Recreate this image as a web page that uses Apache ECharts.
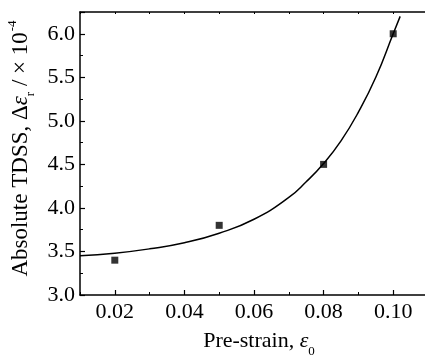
<!DOCTYPE html>
<html>
<head>
<meta charset="utf-8">
<script src="https://cdn.jsdelivr.net/npm/echarts@6/dist/echarts.min.js"></script>
<style>html,body{margin:0;padding:0;background:#fff}#c{width:425px;height:358px}</style>
</head>
<body>
<div id="c"></div>
<script>
// measured points
const preStrain = [0.02, 0.05, 0.08, 0.10];
const tdss = [3.40, 3.80, 4.50, 6.00];
// fitted curve
const fitX = [0.010, 0.020, 0.030, 0.040, 0.050, 0.060, 0.070, 0.075, 0.080, 0.085, 0.090, 0.095, 0.100, 0.102];
const fitY = [3.45, 3.48, 3.53, 3.60, 3.71, 3.87, 4.12, 4.30, 4.51, 4.77, 5.10, 5.50, 6.00, 6.20];
const xLabelValues = [0.02, 0.04, 0.06, 0.08, 0.10];

const FONT = '"Liberation Serif", "Times New Roman", serif';
const FS = 22;
const chart = echarts.init(document.getElementById('c'), null, {renderer: 'canvas'});
const axisLine = {show: true, lineStyle: {color: '#000', width: 1.5}};
chart.setOption({
  animation: false,
  backgroundColor: '#fff',
  grid: {left: 80, right: -3, top: 12, bottom: 63, containLabel: false, outerBoundsMode: 'none'},
  xAxis: [
    {
      type: 'value', position: 'bottom', min: 0.01, max: 0.11, interval: 0.01,
      axisLine: axisLine,
      axisTick: {show: true, inside: true, length: 3, lineStyle: {color: '#000', width: 1}},
      axisLabel: {show: false},
      splitLine: {show: false}
    },
    {
      type: 'value', position: 'bottom', min: 0.01, max: 0.11,
      axisLine: {show: false},
      axisTick: {show: true, inside: true, length: 5, customValues: xLabelValues, lineStyle: {color: '#000', width: 1.2}},
      axisLabel: {show: true, customValues: xLabelValues, margin: 6, color: '#000', fontFamily: FONT, fontSize: FS,
        formatter: v => v.toFixed(2)},
      splitLine: {show: false},
      name: '{n|Pre-strain, }{i|ε}{s|0}',
      nameLocation: 'middle', nameGap: 33,
      nameTextStyle: {padding: [0, 0, 0, 10], rich: {
        n: {fontFamily: FONT, fontSize: FS, color: '#000', verticalAlign: 'middle', lineHeight: 26},
        i: {fontFamily: FONT, fontSize: FS, fontStyle: 'italic', color: '#000', verticalAlign: 'middle', lineHeight: 26},
        s: {fontFamily: FONT, fontSize: 13, color: '#000', verticalAlign: 'bottom', lineHeight: 26, padding: [0, 0, -4, 0]}
      }}
    },
    {
      type: 'value', position: 'top', min: 0.01, max: 0.11, interval: 0.01,
      axisLine: axisLine,
      axisTick: {show: true, inside: true, length: 2, lineStyle: {color: '#000', width: 1}},
      axisLabel: {show: false},
      splitLine: {show: false}
    }
  ],
  yAxis: [
    {
      type: 'value', min: 3.0, max: 6.25, interval: 0.5,
      axisLine: axisLine,
      axisTick: {show: true, inside: true, length: 5, lineStyle: {color: '#000', width: 1.2}},
      minorTick: {show: true, splitNumber: 2, length: 3, lineStyle: {color: '#000', width: 1}},
      axisLabel: {show: true, margin: 5, color: '#000', fontFamily: FONT, fontSize: FS, showMaxLabel: false,
        formatter: v => v.toFixed(1)},
      splitLine: {show: false},
      name: '{n|Absolute TDSS, Δ}{i|ε}{s|r}{n| / × 10}{p|-4}',
      nameLocation: 'middle', nameGap: 36,
      nameTextStyle: {padding: [0, 0, 0, 10], rich: {
        n: {fontFamily: FONT, fontSize: 23, color: '#000', verticalAlign: 'middle', lineHeight: 26},
        i: {fontFamily: FONT, fontSize: 23, fontStyle: 'italic', color: '#000', verticalAlign: 'middle', lineHeight: 26},
        s: {fontFamily: FONT, fontSize: 13, color: '#000', verticalAlign: 'bottom', lineHeight: 26, padding: [0, 0, -3, 0]},
        p: {fontFamily: FONT, fontSize: 13, color: '#000', verticalAlign: 'top', lineHeight: 26, padding: [-2, 0, 0, 1]}
      }}
    }
  ],
  series: [
    {
      type: 'line', xAxisIndex: 0, yAxisIndex: 0,
      data: fitX.map((x, i) => [x, fitY[i]]),
      smooth: true, showSymbol: false, symbol: 'none',
      lineStyle: {color: '#000', width: 1.5}, clip: true
    },
    {
      type: 'scatter', xAxisIndex: 0, yAxisIndex: 0,
      data: preStrain.map((x, i) => [x, tdss[i]]),
      symbol: 'rect', symbolSize: 7,
      itemStyle: {color: '#000'}
    }
  ]
});
</script>
</body>
</html>
